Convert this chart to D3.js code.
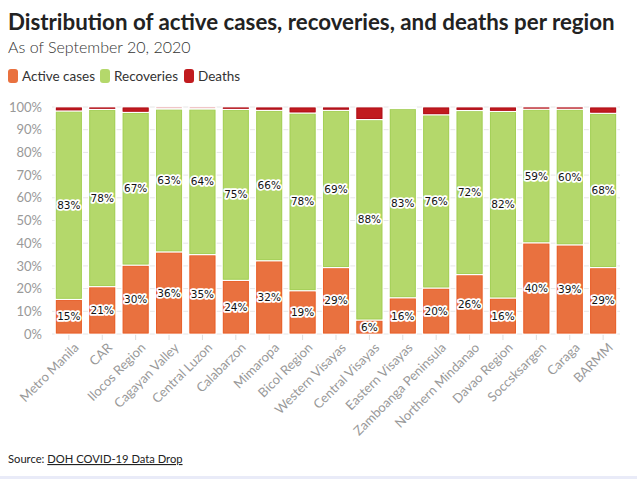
<!DOCTYPE html>
<html>
<head>
<meta charset="utf-8">
<script src="https://d3js.org/d3.v7.min.js"></script>
<style>
  body { margin: 0; background: #fff; }
  svg text { font-family: Lato, "Open Sans", sans-serif; }
</style>
</head>
<body>
<svg id="chart" width="637" height="479"></svg>
<script>
// data (percent of cases per region)
var regions = ["Metro Manila", "CAR", "Ilocos Region", "Cagayan Valley", "Central Luzon",
  "Calabarzon", "Mimaropa", "Bicol Region", "Western Visayas", "Central Visayas",
  "Eastern Visayas", "Zamboanga Peninsula", "Northern Mindanao", "Davao Region",
  "Soccsksargen", "Caraga", "BARMM"];
var active     = [15.3, 20.9, 30.4, 36.2, 35.0, 23.7, 32.3, 19.1, 29.3, 6.2, 16.0, 20.3, 26.2, 15.9, 40.2, 39.3, 29.3];
var recoveries = [83.0, 78.1, 67.3, 63.0, 64.2, 75.3, 66.3, 78.3, 69.3, 88.3, 83.4, 76.3, 72.3, 82.2, 58.9, 59.8, 68.0];
var deaths     = [1.7, 1.0, 2.3, 0.8, 0.8, 1.0, 1.4, 2.6, 1.4, 5.5, 0.6, 3.4, 1.5, 1.9, 0.9, 0.9, 2.7];
var seriesNames = ["Active cases", "Recoveries", "Deaths"];
var yTicks = [0, 10, 20, 30, 40, 50, 60, 70, 80, 90, 100];

var fills   = ["#e9713f", "#b4d86b", "#c11b1f"];
var strokes = ["#e8602a", "#a4cf57", "#b0101a"];

var svg = d3.select("#chart");

// header
svg.append("text").attr("x", 8).attr("y", 30)
  .style("font-size", "22.3px").style("font-weight", "bold").style("fill", "#222")
  .text("Distribution of active cases, recoveries, and deaths per region");
svg.append("text").attr("x", 8).attr("y", 53)
  .style("font-size", "16px").style("font-weight", 300).style("fill", "#333")
  .text("As of September 20, 2020");

// legend
var legendX = [8, 100, 184];
seriesNames.forEach(function (name, i) {
  svg.append("rect").attr("x", legendX[i]).attr("y", 69).attr("width", 10).attr("height", 14)
    .attr("rx", 3).style("fill", fills[i]);
  svg.append("text").attr("x", legendX[i] + 14).attr("y", 81)
    .style("font-size", "13.5px").style("fill", "#333").text(name);
});

var margin = { left: 52, right: 17, top: 107, bottom: 145 };
var width = 637 - margin.left - margin.right,
    height = 479 - margin.top - margin.bottom;

var g = svg.append("g").attr("transform", "translate(" + margin.left + "," + margin.top + ")");

var x = d3.scaleBand().domain(regions).range([0, width]).paddingInner(0.19).paddingOuter(0.1);
var y = d3.scaleLinear().domain([0, 100]).range([height, 0]);

// grid
g.append("g").selectAll("line").data(yTicks).enter().append("line")
  .attr("x1", 0).attr("x2", width)
  .attr("y1", function (d) { return y(d); }).attr("y2", function (d) { return y(d); })
  .style("stroke", "#e6e6e6").style("stroke-width", 1);

// y axis
var yAxis = g.append("g").call(d3.axisLeft(y).tickValues(yTicks)
  .tickFormat(function (d) { return d + "%"; }).tickSize(0).tickPadding(10));
yAxis.select(".domain").remove();
yAxis.selectAll("text").style("font-size", "13px").style("fill", "#999");

// x axis
var xAxis = g.append("g").attr("transform", "translate(0," + height + ")")
  .call(d3.axisBottom(x).tickSize(6).tickPadding(4));
xAxis.select(".domain").remove();
xAxis.selectAll("line").style("stroke", "#ddd");
xAxis.selectAll("text")
  .style("font-size", "13px").style("fill", "#999")
  .attr("text-anchor", "end")
  .attr("dx", "-0.2em").attr("dy", "0.6em")
  .attr("transform", "rotate(-45)");

// stacked bars
var rows = regions.map(function (r, i) {
  return { region: r, a: active[i], r: recoveries[i], d: deaths[i] };
});
var stack = d3.stack().keys(["a", "r", "d"])(rows);

var layers = g.selectAll("g.layer").data(stack).enter().append("g").attr("class", "layer");
layers.each(function (layer, li) {
  d3.select(this).selectAll("rect.seg").data(layer).enter().append("rect").attr("class", "seg")
    .attr("x", function (d) { return x(d.data.region); })
    .attr("width", x.bandwidth())
    .attr("y", function (d) { return y(d[1]); })
    .attr("height", function (d) { return Math.max(0, y(d[0]) - y(d[1])); })
    .style("fill", fills[li])
    .style("stroke", "#fff").style("stroke-width", 1.5);
  d3.select(this).selectAll("rect.edge").data(layer).enter().append("rect").attr("class", "edge")
    .attr("x", function (d) { return x(d.data.region) + 1; })
    .attr("width", x.bandwidth() - 2)
    .attr("y", function (d) { return y(d[1]) + 1; })
    .attr("height", function (d) { return Math.max(0, y(d[0]) - y(d[1]) - 2); })
    .style("fill", "none")
    .style("stroke", strokes[li]).style("stroke-width", 1);
});

// value labels for active cases and recoveries, text with a white halo
stack.slice(0, 2).forEach(function (layer) {
  g.append("g").selectAll("text").data(layer).enter().append("text")
    .attr("x", function (d) { return x(d.data.region) + x.bandwidth() / 2; })
    .attr("y", function (d) { return (y(d[0]) + y(d[1])) / 2; })
    .attr("dy", "0.35em")
    .attr("text-anchor", "middle")
    .style("font-family", "'DejaVu Sans', sans-serif")
    .style("font-size", "10.5px")
    .style("fill", "#111")
    .style("stroke", "#fff").style("stroke-width", 3.5).style("stroke-linejoin", "round")
    .style("paint-order", "stroke")
    .text(function (d) { return Math.round(d[1] - d[0]) + "%"; });
});

// footer
var src = svg.append("text").attr("x", 8).attr("y", 463)
  .style("font-size", "11.2px").style("fill", "#222");
src.append("tspan").text("Source: ");
src.append("tspan").style("text-decoration", "underline").text("DOH COVID-19 Data Drop");

svg.append("rect").attr("x", 0).attr("y", 476).attr("width", 637).attr("height", 3)
  .style("fill", "#e9ebf8");
</script>
</body>
</html>
